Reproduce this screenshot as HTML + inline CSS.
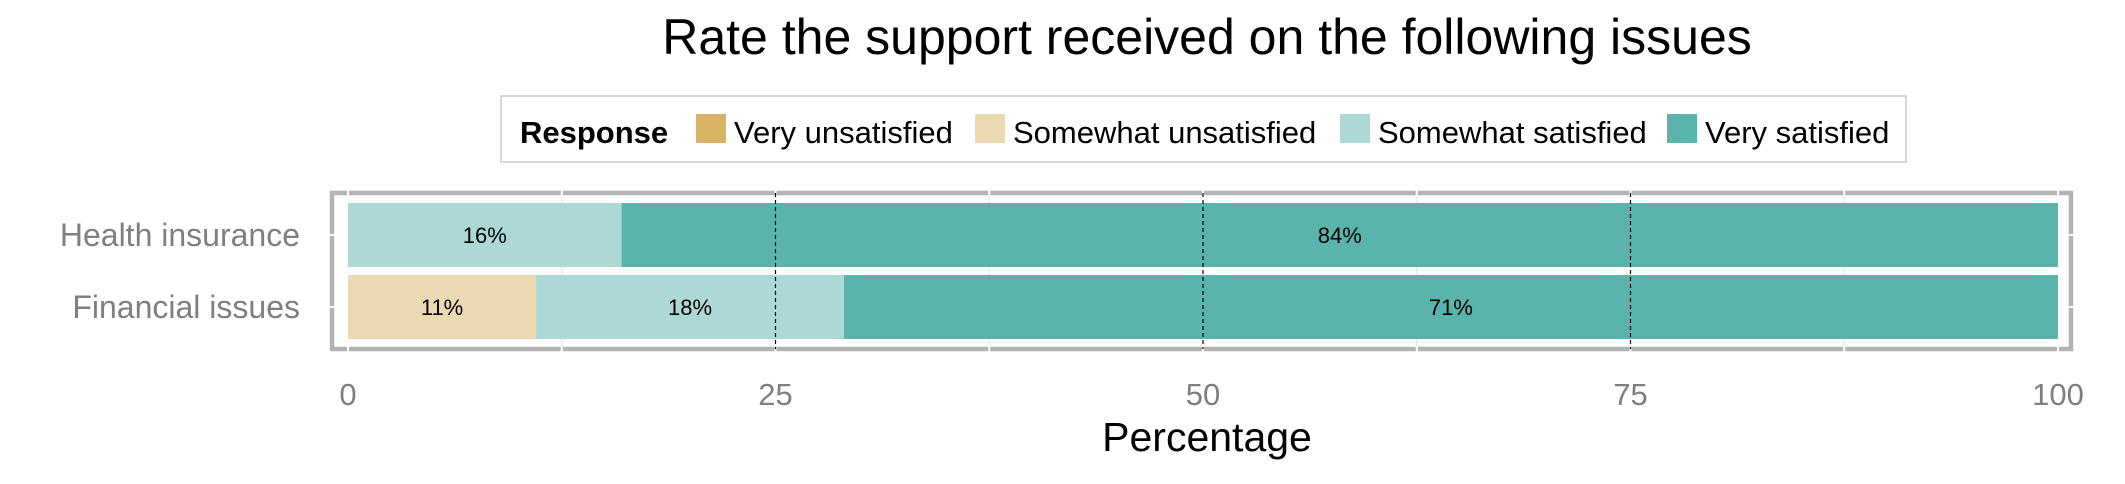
<!DOCTYPE html>
<html><head><meta charset="utf-8"><style>
html,body{margin:0;padding:0;background:#fff;}
svg{display:block;font-family:"Liberation Sans",Arial,sans-serif;}
</style></head><body>
<svg id="chart" width="2125" height="484" viewBox="0 0 2125 484">
<text x="1207" y="54" text-anchor="middle" font-size="50" fill="#000">Rate the support received on the following issues</text>
<g>
<rect x="501" y="96" width="1405" height="66" fill="#fff" stroke="#c8c8c8" stroke-width="1.5"/>
<text x="520" y="143" font-size="31" font-weight="bold" fill="#000">Response</text>
<g id="legend-items"></g>
</g>
<g id="plot"></g>
<text x="1207" y="451" text-anchor="middle" font-size="41" fill="#000">Percentage</text>
</svg>
<script>
const categories = ["Health insurance", "Financial issues"];
const responses = ["Very unsatisfied", "Somewhat unsatisfied", "Somewhat satisfied", "Very satisfied"];
const veryUnsatisfied = [0, 0];
const somewhatUnsatisfied = [0, 11];
const somewhatSatisfied = [16, 18];
const verySatisfied = [84, 71];
const xTicks = [0, 25, 50, 75, 100];

const series = [veryUnsatisfied, somewhatUnsatisfied, somewhatSatisfied, verySatisfied];
const colors = ["#d8b365", "#ebd9b2", "#acd9d5", "#5ab4ac"];
const NS = "http://www.w3.org/2000/svg";
const x0 = 348, x100 = 2058;
const xs = v => x0 + (x100 - x0) * v / 100;
const bandTop = 199, step = 72, barH = 64;
const yc = i => bandTop + step * i + step / 2;
function mk(tag, attrs, parent) {
  const e = document.createElementNS(NS, tag);
  for (const k in attrs) e.setAttribute(k, attrs[k]);
  parent.appendChild(e);
  return e;
}
const plot = document.getElementById('plot');
const legX = [696, 975, 1340, 1667];
const lg = document.getElementById('legend-items');
responses.forEach((r, i) => {
  const s = mk('rect', {x: legX[i], y: 114, width: 30, height: 29, fill: colors[i]}, lg);
  
  
  const t = mk('text', {x: legX[i] + 38, y: 143, 'font-size': 31, fill: '#000'}, lg);
  t.textContent = r;
  
  
});
const border = mk('rect', {x: 332, y: 193, width: 1739, height: 156, fill: 'none', stroke: '#b3b3b3', 'stroke-width': 4.5}, plot);


for (let v = 0; v <= 100; v += 12.5) {
  const g = mk('line', {x1: xs(v), x2: xs(v), y1: 190, y2: 352, stroke: v % 25 === 0 ? '#ffffff' : '#ececec', 'stroke-width': 1.5}, plot);
  
  
}
for (let v = 0; v <= 100; v += 12.5) {
  const g = mk('line', {x1: xs(v), x2: xs(v), y1: 190, y2: 196, stroke: '#fff', 'stroke-width': 2}, plot);
  
  
  const g2 = mk('line', {x1: xs(v), x2: xs(v), y1: 346, y2: 352, stroke: '#fff', 'stroke-width': 2}, plot);
  
  
}
categories.forEach((c, i) => {
  const h = mk('line', {x1: 329, x2: 2074, y1: yc(i), y2: yc(i), stroke: '#fff', 'stroke-width': 2}, plot);
  
  
});
categories.forEach((c, i) => {
  let cum = 0;
  series.forEach((s, j) => {
    const v = s[i];
    if (v > 0) {
      const r = mk('rect', {x: xs(cum), y: yc(i) - barH / 2, width: xs(cum + v) - xs(cum), height: barH, fill: colors[j]}, plot);
      
      
      const t = mk('text', {x: xs(cum + v / 2), y: yc(i) + 8, 'text-anchor': 'middle', 'font-size': 22, fill: '#000'}, plot);
      t.textContent = v + '%';
      
      
    }
    cum += v;
  });
  const lab = mk('text', {x: 300, y: yc(i) + 11, 'text-anchor': 'end', 'font-size': 32, fill: '#7f7f7f'}, plot);
  lab.textContent = c;
  
  
});
[25, 50, 75].forEach(v => {
  const d = mk('line', {x1: xs(v), x2: xs(v), y1: 193, y2: 349, stroke: '#000', 'stroke-width': 1.2, 'stroke-dasharray': '4,3'}, plot);
  
  
});
xTicks.forEach(v => {
  const t = mk('text', {x: xs(v), y: 405, 'text-anchor': 'middle', 'font-size': 31, fill: '#7f7f7f'}, plot);
  t.textContent = v;
  
  
});
</script>
</body></html>
